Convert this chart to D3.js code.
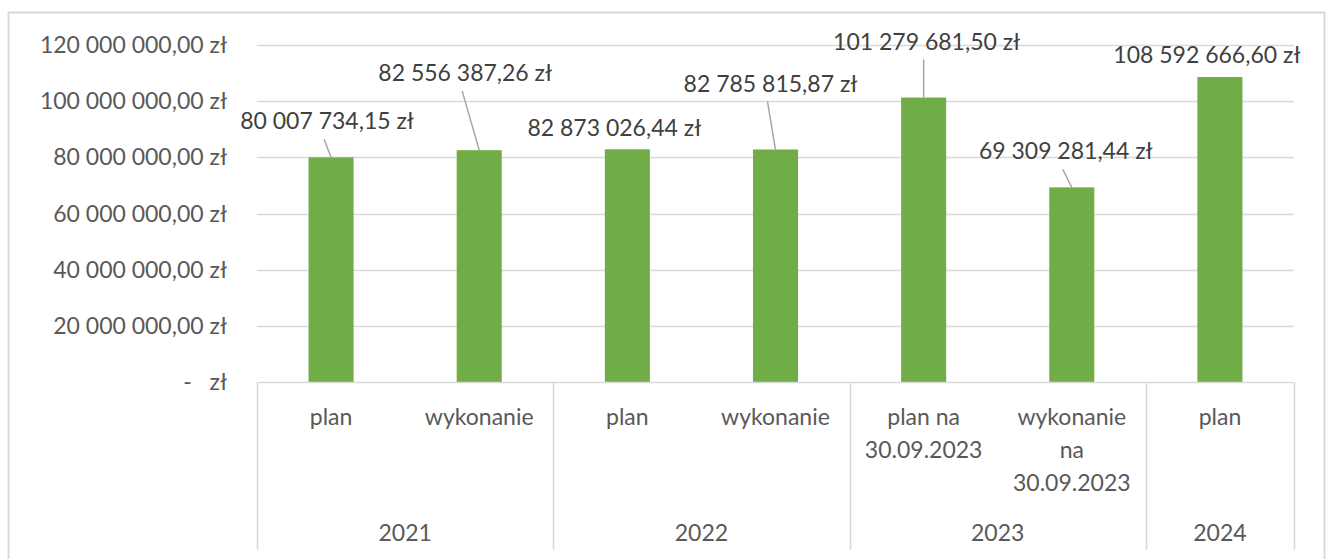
<!DOCTYPE html>
<html>
<head>
<meta charset="utf-8">
<script src="https://cdn.jsdelivr.net/npm/d3@7"></script>
<style>
  html, body { margin: 0; padding: 0; background: #fff; }
  text { font-family: Lato, "Open Sans", sans-serif; }
</style>
</head>
<body>
<svg id="chart" width="1330" height="559"></svg>
<script>
// data
const years = ["2021", "2022", "2023", "2024"];
const categoryLines = [
  ["plan"],
  ["wykonanie"],
  ["plan"],
  ["wykonanie"],
  ["plan na", "30.09.2023"],
  ["wykonanie", "na", "30.09.2023"],
  ["plan"]
];
const categoryYear = ["2021", "2021", "2022", "2022", "2023", "2023", "2024"];
const values = [80007734.15, 82556387.26, 82873026.44, 82785815.87, 101279681.50, 69309281.44, 108592666.60];
const yTicks = [0, 20000000, 40000000, 60000000, 80000000, 100000000, 120000000];

// label placement relative to bar top (layout only), leader = draw a leader line
const labelOffsets = [
  { dx: -4, dy: -36, leader: true },
  { dx: -14, dy: -77, leader: true },
  { dx: -13, dy: -21, leader: false },
  { dx: -5, dy: -66, leader: true },
  { dx: 3, dy: -56, leader: true },
  { dx: -6, dy: -36, leader: true },
  { dx: -13, dy: -22, leader: false }
];

const svg = d3.select("#chart");
const margin = { left: 257, right: 36, top: 45, bottom: 177 };
const width = 1330, height = 559;
const plotRight = width - margin.right;
const plotBottom = height - margin.bottom;

const pl = d3.formatLocale({ decimal: ",", thousands: " ", grouping: [3], currency: ["", " zł"] });
const money = pl.format(",.2f");
const fmt = v => v === 0 ? "-   zł" : money(v) + " zł";

const idx = d3.range(values.length);
const x = d3.scaleBand().domain(idx).range([margin.left, plotRight]).paddingInner(0.696).paddingOuter(0.348);
const y = d3.scaleLinear().domain([0, 120000000]).range([plotBottom, margin.top]);

// outer chart border
svg.append("rect")
  .attr("x", 8.5).attr("y", 12.5)
  .attr("width", 1316).attr("height", 600)
  .attr("fill", "none").attr("stroke", "#d9d9d9").attr("stroke-width", 2);

// gridlines
svg.append("g")
  .selectAll("line")
  .data(yTicks.filter(d => d > 0))
  .join("line")
  .attr("x1", margin.left).attr("x2", plotRight)
  .attr("y1", d => Math.round(y(d)) + 0.5).attr("y2", d => Math.round(y(d)) + 0.5)
  .attr("stroke", "#d9d9d9").attr("stroke-width", 1.5);

// y axis labels
svg.append("g")
  .selectAll("text")
  .data(yTicks)
  .join("text")
  .attr("x", 227).attr("y", d => y(d))
  .attr("dy", "0.35em")
  .attr("text-anchor", "end")
  .attr("font-size", 23)
  .attr("fill", "#595959")
  .style("white-space", "pre")
  .text(fmt);

// bars
svg.append("g")
  .selectAll("rect")
  .data(values)
  .join("rect")
  .attr("x", (d, i) => x(i))
  .attr("width", x.bandwidth())
  .attr("y", d => y(d))
  .attr("height", d => y(0) - y(d))
  .attr("fill", "#70ad47");

// category axis: baseline and group separators
const step = x.step();
const slotLeft = i => margin.left + i * step;
const groups = years.map(yr => {
  const members = idx.filter(i => categoryYear[i] === yr);
  return { year: yr, start: members[0], end: members[members.length - 1] + 1 };
});
const axisG = svg.append("g").attr("stroke", "#d9d9d9").attr("stroke-width", 1.5);
axisG.append("line")
  .attr("x1", margin.left).attr("x2", plotRight)
  .attr("y1", plotBottom + 0.5).attr("y2", plotBottom + 0.5);
const bounds = [0].concat(groups.map(g => g.end));
axisG.selectAll("line.sep")
  .data(bounds)
  .join("line")
  .attr("class", "sep")
  .attr("x1", d => Math.round(slotLeft(d)) + 0.5).attr("x2", d => Math.round(slotLeft(d)) + 0.5)
  .attr("y1", plotBottom).attr("y2", 550);

// sub-category labels
const catG = svg.append("g").attr("font-size", 23).attr("fill", "#595959").attr("text-anchor", "middle");
catG.selectAll("text")
  .data(categoryLines)
  .join("text")
  .attr("x", (d, i) => x(i) + x.bandwidth() / 2)
  .attr("y", 425)
  .each(function (lines) {
    d3.select(this).selectAll("tspan")
      .data(lines)
      .join("tspan")
      .attr("x", d3.select(this).attr("x"))
      .attr("dy", (l, j) => j === 0 ? 0 : 33)
      .text(l => l);
  });

// year labels
svg.append("g").attr("font-size", 23).attr("fill", "#595959").attr("text-anchor", "middle")
  .selectAll("text")
  .data(groups)
  .join("text")
  .attr("x", g => (slotLeft(g.start) + slotLeft(g.end)) / 2)
  .attr("y", 541)
  .text(g => g.year);

// data labels + leader lines
const labels = values.map((v, i) => {
  const bx = x(i) + x.bandwidth() / 2, by = y(v);
  const o = labelOffsets[i];
  return { v, bx, by, lx: bx + o.dx, ly: by + o.dy, leader: o.leader };
});
svg.append("g")
  .selectAll("line")
  .data(labels.filter(d => d.leader))
  .join("line")
  .attr("x1", d => d.lx - 3).attr("y1", d => d.ly + 18)
  .attr("x2", d => d.bx).attr("y2", d => d.by)
  .attr("stroke", "#a6a6a6").attr("stroke-width", 1.5);
svg.append("g")
  .attr("font-size", 23).attr("fill", "#404040").attr("text-anchor", "middle")
  .selectAll("text")
  .data(labels)
  .join("text")
  .attr("x", d => d.lx).attr("y", d => d.ly)
  .attr("dy", "0.35em")
  .text(d => fmt(d.v));
</script>
</body>
</html>
